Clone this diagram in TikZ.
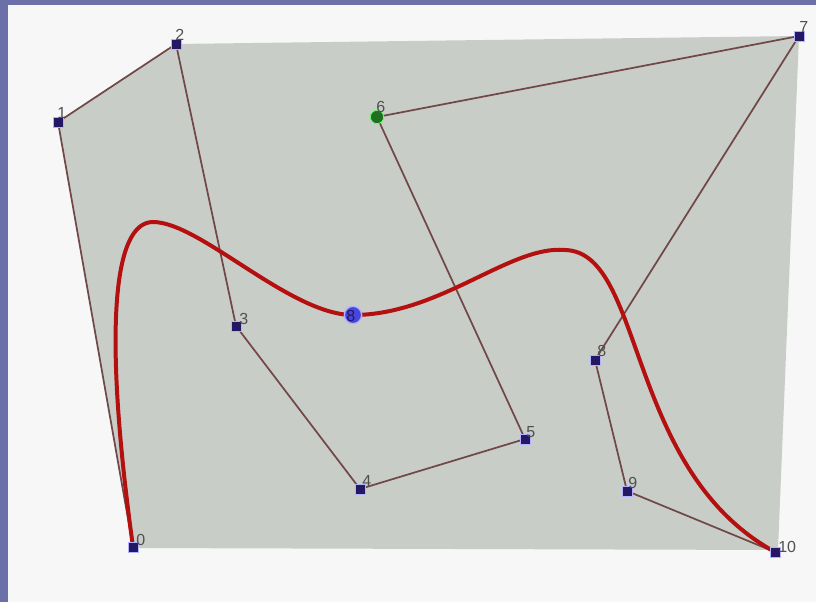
\documentclass[tikz,border=0pt]{standalone}
\usepackage{fontspec}
\setmainfont{Liberation Sans}
\begin{document}
\begin{tikzpicture}[x=0.75pt,y=-0.75pt,
  ctrl/.style={rectangle,draw=white!70!blue,line width=0.6pt,fill=ctrlcol,minimum size=7.5pt,inner sep=0pt},
  startpt/.style={circle,draw=green!60!white,line width=0.6pt,fill=startcol,minimum size=10pt,inner sep=0pt},
  curpt/.style={circle,draw=blue!30!white,line width=1pt,fill=curcol,minimum size=13pt,inner sep=0pt},
  lbl/.style={font=\fontsize{12}{12}\selectfont,text=labcol,inner sep=0pt,anchor=south west},
  poly/.style={draw=polycol,line width=1.3pt},
  spline/.style={draw=curvecol,line width=3pt}]
\definecolor{bgcol}{RGB}{108,112,168}
\definecolor{inner}{RGB}{247,247,247}
\definecolor{area}{RGB}{201,205,199}
\definecolor{ctrlcol}{RGB}{36,24,100}
\definecolor{startcol}{RGB}{32,110,32}
\definecolor{curcol}{RGB}{70,70,220}
\definecolor{labcol}{RGB}{80,80,80}
\definecolor{polycol}{RGB}{112,72,72}
\definecolor{curvecol}{RGB}{180,16,16}
\useasboundingbox (0,0) rectangle (816,602);
\fill[bgcol] (0,0) rectangle (816,602);
\fill[inner] (8,5) rectangle (816,602);
\fill[area] (133,548) -- (58,122) -- (176,44) -- (485,40) -- (799,36) -- (778,550) -- cycle;
% control point positions
\coordinate (c0) at (133,547);
\coordinate (c1) at (58,122);
\coordinate (c2) at (176,44);
\coordinate (c3) at (236,326);
\coordinate (c4) at (360,489);
\coordinate (c5) at (525,439);
\coordinate (c6) at (377,117);
\coordinate (c7) at (799,36);
\coordinate (c8) at (595,360);
\coordinate (c9) at (627,491);
\coordinate (c10) at (775,552);
\coordinate (cu) at (353,315);
% control polygon
\draw[poly] (c0) -- (c1) -- (c2) -- (c3) -- (c4) -- (c5) -- (c6) -- (c7) -- (c8) -- (c9) -- (c10);
% curve
\draw[spline] (c0) .. controls (103,330) and (113,222) .. (153,222)
  .. controls (200,222) and (290,315) .. (cu)
  .. controls (440,315) and (510,245) .. (565,250)
  .. controls (645,252) and (625,470) .. (c10);
% points
\node[ctrl] (p0) at (c0) {};
\node[ctrl] (p1) at (c1) {};
\node[ctrl] (p2) at (c2) {};
\node[ctrl] (p3) at (c3) {};
\node[ctrl] (p4) at (c4) {};
\node[ctrl] (p5) at (c5) {};
\node[startpt] (p6) at (c6) {};
\node[ctrl] (p7) at (c7) {};
\node[ctrl] (p8) at (c8) {};
\node[ctrl] (p9) at (c9) {};
\node[ctrl] (p10) at (c10) {};
\node[curpt] (pu) at (cu) {};
% labels
\node[lbl] (l0) at (136,546) {0};
\node[lbl] (l1) at (57,119) {1};
\node[lbl] (l2) at (175,41) {2};
\node[lbl] (l3) at (239,325) {3};
\node[lbl] (l4) at (362,487) {4};
\node[lbl] (l5) at (526,438) {5};
\node[lbl] (l6) at (376,113) {6};
\node[lbl] (l7) at (799,33) {7};
\node[lbl] (l8) at (597,357) {8};
\node[lbl] (l9) at (628,489) {9};
\node[lbl] (l10) at (778,553) {10};
\node[lbl,text=ctrlcol] (lu) at (346,322) {8};
\end{tikzpicture}
\end{document}
